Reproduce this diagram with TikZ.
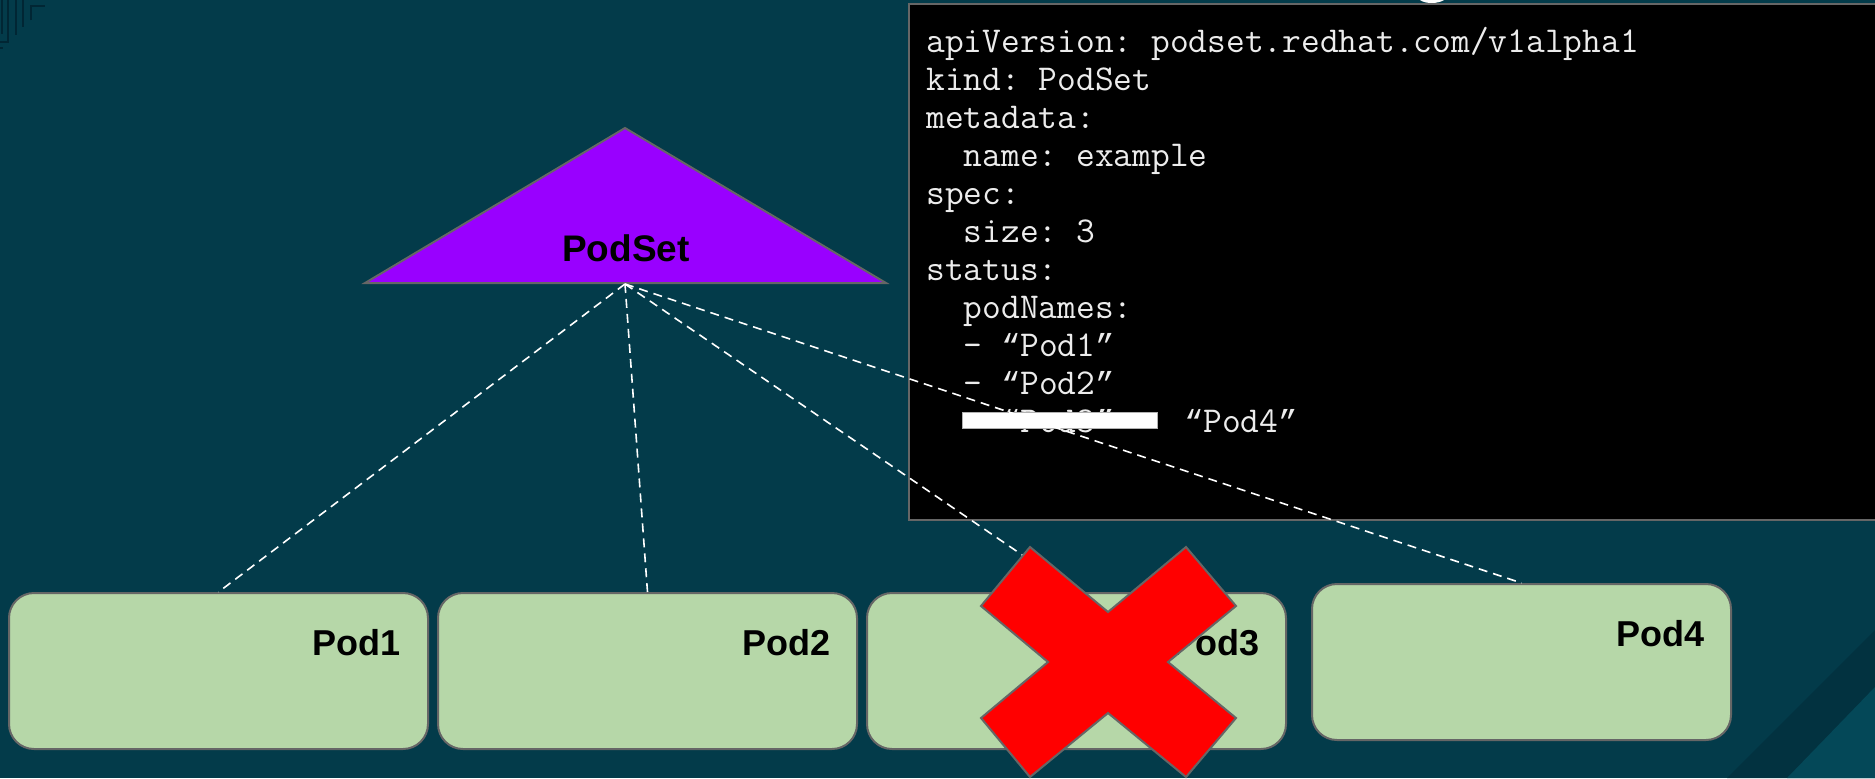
\documentclass[tikz,border=0pt]{standalone}
\usepackage{fontspec}
\newfontfamily\labfont{Liberation Sans}
\newfontfamily\qfont{Liberation Mono}
\newcommand\oqt{{\qfont\fontsize{15.9pt}{19pt}\selectfont “}}
\newcommand\cqt{{\qfont\fontsize{15.9pt}{19pt}\selectfont ”}}
\definecolor{bg}{RGB}{3,59,74}
\definecolor{bgband}{RGB}{2,50,64}
\definecolor{bglight}{RGB}{4,72,88}
\definecolor{decor}{RGB}{1,38,52}
\definecolor{edge}{HTML}{666666}
\definecolor{podgreen}{HTML}{B6D7A8}
\definecolor{podpurple}{HTML}{9900FF}
\definecolor{xred}{HTML}{FF0000}
\definecolor{codetext}{RGB}{236,236,236}
\begin{document}
\begin{tikzpicture}[x=0.5pt,y=-0.5pt,
  podbox/.style={draw=edge, fill=podgreen, line width=1pt, rounded corners=12.5pt,
    minimum width=209.5pt, minimum height=78pt, inner sep=0pt},
  podlab/.style={anchor=base east, inner sep=0pt, text=black,
    font=\labfont\bfseries\fontsize{18pt}{20pt}\selectfont},
  codeln/.style={anchor=base west, inner sep=0pt, text=codetext,
    font=\ttfamily\frenchspacing\fontsize{18.2pt}{19pt}\selectfont},
  link/.style={draw=white, line width=0.8pt, dash pattern=on 4.5pt off 3pt},
  decoline/.style={draw=decor, line width=1pt}
]
\useasboundingbox (0,0) rectangle (1875,778);
\clip (0,0) rectangle (1875,778);
% background
\fill[bg] (0,0) rectangle (1875,778);
\fill[bgband] (1875,630) -- (1875,778) -- (1727,778) -- cycle;
\fill[bglight] (1875,687) -- (1875,778) -- (1787,778) -- cycle;
% top-left decoration
\draw[decoline] (8,0) -- (8,42) -- (0,42);
\draw[decoline] (1.5,0) -- (1.5,34);
\draw[decoline] (16,0) -- (16,35);
\draw[decoline] (23,0) -- (23,27);
\draw[decoline] (31,20) -- (31,6) -- (45,6);
\draw[decoline] (0,48) -- (3,48);
% title fragment at top
\fill[white] (1420,0) .. controls (1425,4) and (1438,4) .. (1444,0) -- cycle;
% PodSet triangle
\draw[draw=edge, fill=podpurple, line width=1pt] (625,128) -- (886,283) -- (365,283) -- cycle;
\coordinate (ps) at (625,284);
\node[anchor=base, inner sep=0pt, text=black, font=\labfont\bfseries\fontsize{18.5pt}{20pt}\selectfont] (podset) at (626,261) {PodSet};
% pods
\node[podbox] (p1) at (218.5,671) {};
\node[podbox] (p2) at (647.5,671) {};
\node[podbox] (p3) at (1076.5,671) {};
\node[podbox] (p4) at (1521.5,662) {};
\node[podlab] (l1) at (401,655) {Pod1};
\node[podlab] (l2) at (831,655) {Pod2};
\node[podlab] (l3) at (1260,655) {Pod3};
\node[podlab] (l4) at (1705,646) {Pod4};
% code box
\draw[draw=edge, fill=black, line width=1pt] (909,4) rectangle (1890,520);
\node[codeln] (c1) at (926,52) {apiVersion: podset.redhat.com/v1alpha1};
\node[codeln] (c2) at (926,90) {kind: PodSet};
\node[codeln] (c3) at (926,128) {metadata:};
\node[codeln] (c4) at (926,166) {\hphantom{xx}name: example};
\node[codeln] (c5) at (926,204) {spec:};
\node[codeln] (c6) at (926,242) {\hphantom{xx}size: 3};
\node[codeln] (c7) at (926,280) {status:};
\node[codeln] (c8) at (926,318) {\hphantom{xx}podNames:};
\node[codeln] (c9) at (926,356) {\hphantom{xx}- \oqt Pod1\cqt};
\node[codeln] (c10) at (926,394) {\hphantom{xx}- \oqt Pod2\cqt};
\node[codeln] (c11) at (926,432) {\hphantom{xx}- \oqt Pod3\cqt};
\node[codeln] (c12) at (1184,432) {\oqt Pod4\cqt};
\draw[draw=gray!60, fill=white, line width=0.4pt] (962,412) rectangle (1157,428);
% connectors
\draw[link] (ps) -- (p1.north);
\draw[link] (ps) -- (p2.north);
\draw[link] (ps) -- (p3.north);
\draw[link] (ps) -- (p4.north);
% red X
\draw[draw=edge, fill=xred, line width=1pt, line join=miter]
  (1030,547) -- (1108,612) -- (1186,547) -- (1236,606) -- (1168,662) -- (1236,718)
  -- (1186,777) -- (1108,713) -- (1030,777) -- (981,718) -- (1048,662) -- (981,606) -- cycle;
\end{tikzpicture}
\end{document}
